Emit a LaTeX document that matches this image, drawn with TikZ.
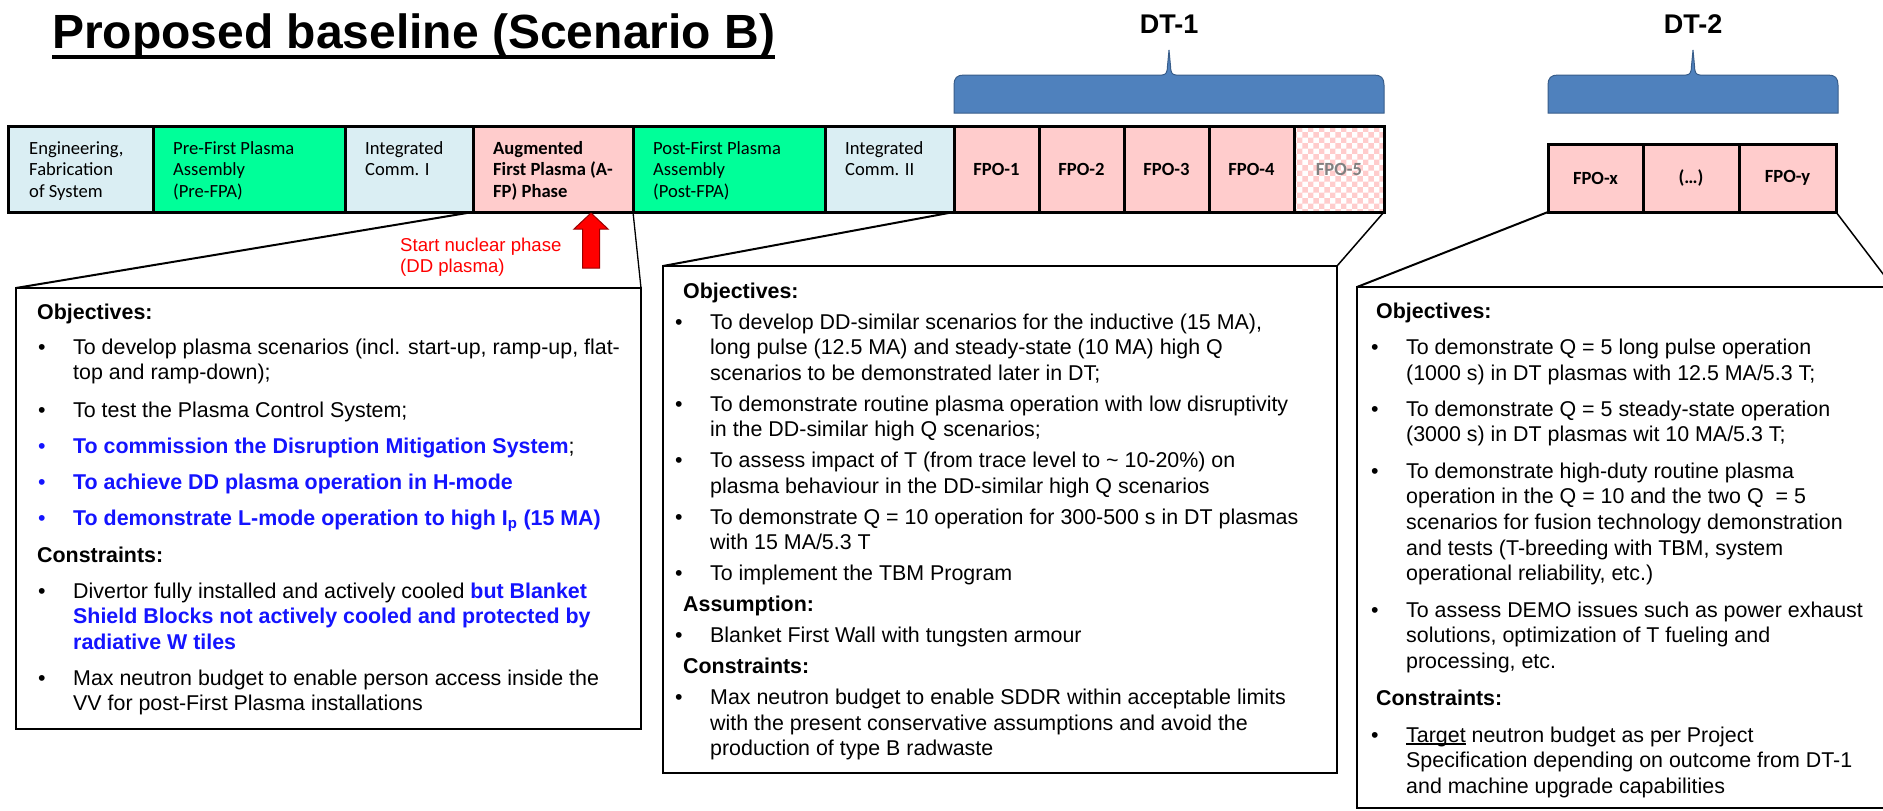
\documentclass[tikz,border=0pt]{standalone}
\usepackage{fontspec}
\setmainfont{Liberation Sans}
\newfontfamily\calib{Carlito}
\usetikzlibrary{patterns}
\definecolor{lblue}{RGB}{218,238,243}
\definecolor{sgreen}{RGB}{0,255,153}
\definecolor{lpink}{RGB}{255,204,204}
\definecolor{bracefill}{RGB}{79,129,189}
\definecolor{bracedark}{RGB}{56,93,138}
\definecolor{tblue}{RGB}{20,20,255}
\definecolor{fpogray}{RGB}{128,128,128}
\newcommand\ml[1]{\begin{tabular}[t]{@{}l@{}}#1\end{tabular}}
\newcommand\ulin[1]{\setbox0\hbox{#1}\rlap{\rule[-2.6pt]{\wd0}{1.3pt}}\box0\relax}
\newcommand\itm[5]{%
  \node[bul, text=#4] (#1b) at (#2-35,#3) {\textbullet};
  \node[body] (#1) at (#2,#3) {\ml{#5}};}
\tikzset{
 cell/.style={draw=black, line width=3pt, anchor=north west, outer sep=0pt, inner sep=0pt, minimum height=86pt},
 cellb/.style={draw=black, line width=3pt, anchor=north west, outer sep=0pt, inner sep=0pt, minimum height=68pt},
 celltxt/.style={anchor=base west, inner sep=0pt, font=\calib\fontsize{18.6}{21.7}\selectfont},
 fpotxt/.style={inner sep=0pt, font=\calib\bfseries\fontsize{18.6}{21.7}\selectfont},
 infobox/.style={draw=black, line width=2.5pt, anchor=north west, outer sep=0pt, inner sep=0pt, fill=white},
 body/.style={anchor=base west, inner sep=0pt, font=\fontsize{21.4}{25.6}\selectfont},
 head/.style={anchor=base west, inner sep=0pt, font=\bfseries\fontsize{21.4}{25.6}\selectfont},
 bul/.style={anchor=base west, inner sep=0pt, font=\fontsize{21.4}{25.6}\selectfont},
 conn/.style={draw=black, line width=2pt},
 dtlabel/.style={anchor=base, inner sep=0pt, font=\bfseries\fontsize{27}{32}\selectfont},
 bracestyle/.style={fill=bracefill, draw=bracedark, line width=1pt},
}
\begin{document}
\begin{tikzpicture}[x=1pt,y=-1pt]
\useasboundingbox[fill=white] (0,0) rectangle (1883,811);

% title
\node[anchor=base west, inner sep=0pt, font=\bfseries\fontsize{48}{56}\selectfont] (title) at (52,48) {Proposed baseline (Scenario B)};
\draw[line width=4pt] ([yshift=-9pt]title.base west) -- ([yshift=-9pt]title.base east);

% DT braces and labels
\fill[bracestyle] (954,113) -- (954,85) .. controls (954,78) and (957,75) .. (964,75) -- (1162,75)
  .. controls (1166,75) and (1167.5,72) .. (1167.5,66) -- (1169,50) -- (1170.5,66)
  .. controls (1170.5,72) and (1172,75) .. (1176,75) -- (1374,75)
  .. controls (1381,75) and (1384,78) .. (1384,85) -- (1384,113) -- cycle;
\fill[bracestyle] (1548,113) -- (1548,85) .. controls (1548,78) and (1551,75) .. (1558,75) -- (1686,75)
  .. controls (1690,75) and (1691.5,72) .. (1691.5,66) -- (1693,50) -- (1694.5,66)
  .. controls (1694.5,72) and (1696,75) .. (1700,75) -- (1828,75)
  .. controls (1835,75) and (1838,78) .. (1838,85) -- (1838,113) -- cycle;
\node[dtlabel] (dt1) at (1169,33) {DT-1};
\node[dtlabel] (dt2) at (1693,33) {DT-2};

% main bar
\node[cell, fill=lblue, minimum width=145pt] (eng) at (8,126) {};
\node[cell, fill=sgreen, minimum width=192pt] (pre) at (153,126) {};
\node[cell, fill=lblue, minimum width=128pt] (int1) at (345,126) {};
\node[cell, fill=lpink, minimum width=160pt] (aug) at (473,126) {};
\node[cell, fill=sgreen, minimum width=192pt] (post) at (633,126) {};
\node[cell, fill=lblue, minimum width=129pt] (int2) at (825,126) {};
\node[cell, fill=lpink, minimum width=85pt] (fpo1) at (954,126) {};
\node[cell, fill=lpink, minimum width=85pt] (fpo2) at (1039,126) {};
\node[cell, fill=lpink, minimum width=85pt] (fpo3) at (1124,126) {};
\node[cell, fill=lpink, minimum width=85pt] (fpo4) at (1209,126) {};
\node[cell, pattern=checkerboard, pattern color=lpink, minimum width=90pt] (fpo5) at (1294,126) {};

\node[celltxt] (engt) at (29,154) {\ml{Engineering,\\Fabrication\\of System}};
\node[celltxt] (pret) at (173,154) {\ml{Pre-First Plasma\\Assembly\\(Pre-FPA)}};
\node[celltxt] (int1t) at (365,154) {\ml{Integrated\\Comm. I}};
\node[celltxt, font=\calib\bfseries\fontsize{18.6}{21.7}\selectfont] (augt) at (493,154) {\ml{Augmented\\First Plasma (A-\\FP) Phase}};
\node[celltxt] (postt) at (653,154) {\ml{Post-First Plasma\\Assembly\\(Post-FPA)}};
\node[celltxt] (int2t) at (845,154) {\ml{Integrated\\Comm. II}};
\node[fpotxt] (fpo1t) at (fpo1) {FPO-1};
\node[fpotxt] (fpo2t) at (fpo2) {FPO-2};
\node[fpotxt] (fpo3t) at (fpo3) {FPO-3};
\node[fpotxt] (fpo4t) at (fpo4) {FPO-4};
\node[fpotxt, text=fpogray] (fpo5t) at (fpo5) {FPO-5};

% DT-2 bar
\node[cellb, fill=lpink, minimum width=95pt] (fpox) at (1548,144) {};
\node[cellb, fill=lpink, minimum width=96pt] (fpod) at (1643,144) {};
\node[cellb, fill=lpink, minimum width=97pt] (fpoy) at (1739,144) {};
\node[fpotxt] (fpoxt) at (fpox) {FPO-x};
\node[fpotxt] (fpodt) at (fpod) {(\dots)};
\node[fpotxt] (fpoyt) at (fpoy) {FPO-y};

% start nuclear phase
\draw[fill=red, draw=red!60!black, line width=1pt] (591,213) -- (608,229) -- (599.5,229) -- (599.5,268) -- (582.5,268) -- (582.5,229) -- (574,229) -- cycle;
\node[anchor=base west, inner sep=0pt, text=red, font=\fontsize{18.6}{21.7}\selectfont] (snp) at (400,251) {\ml{Start nuclear phase\\(DD plasma)}};

% info boxes
\node[infobox, minimum width=625pt, minimum height=441pt] (lbox) at (16,288) {};
\node[infobox, minimum width=674pt, minimum height=507pt] (mbox) at (663,266) {};
\node[infobox, minimum width=536pt, minimum height=521pt] (rbox) at (1357,287) {};

% connectors
\draw[conn] (aug.south west) -- (lbox.north west);
\draw[conn, line width=1.3pt] (aug.south east) -- (lbox.north east);
\draw[conn] (fpo1.south west) -- (mbox.north west);
\draw[conn, line width=1.5pt] (fpo5.south east) -- (mbox.north east);
\draw[conn] (fpox.south west) -- (rbox.north west);
\draw[conn, line width=1.5pt] (fpoy.south east) -- (rbox.north east);

% left box text
\node[head] (lobj) at (37,319) {Objectives:};
\itm{l1}{73}{354}{black}{To develop plasma scenarios (incl. start-up, ramp-up, flat-\\top and ramp-down);}
\itm{l2}{73}{417}{black}{To test the Plasma Control System;}
\itm{l3}{73}{453}{tblue}{{\color{tblue}\bfseries To commission the Disruption Mitigation System};}
\itm{l4}{73}{489}{tblue}{{\color{tblue}\bfseries To achieve DD plasma operation in H-mode}}
\itm{l5}{73}{525}{tblue}{{\color{tblue}\bfseries To demonstrate L-mode operation to high I\textsubscript{p} (15 MA)}}
\node[head] (lcon) at (37,562) {Constraints:};
\itm{l6}{73}{598}{black}{Divertor fully installed and actively cooled {\color{tblue}\bfseries but Blanket}\\{\color{tblue}\bfseries Shield Blocks not actively cooled and protected by}\\{\color{tblue}\bfseries radiative W tiles}}
\itm{l7}{73}{685}{black}{Max neutron budget to enable person access inside the\\VV for post-First Plasma installations}

% middle box text
\node[head] (mobj) at (683,298) {Objectives:};
\itm{m1}{710}{329}{black}{To develop DD-similar scenarios for the inductive (15 MA),\\long pulse (12.5 MA) and steady-state (10 MA) high Q\\scenarios to be demonstrated later in DT;}
\itm{m2}{710}{411}{black}{To demonstrate routine plasma operation with low disruptivity\\in the DD-similar high Q scenarios;}
\itm{m3}{710}{467.5}{black}{To assess impact of T (from trace level to \textasciitilde{} 10-20\%) on\\plasma behaviour in the DD-similar high Q scenarios}
\itm{m4}{710}{524}{black}{To demonstrate Q = 10 operation for 300-500 s in DT plasmas\\with 15 MA/5.3 T}
\itm{m5}{710}{580.5}{black}{To implement the TBM Program}
\node[head] (mass) at (683,611.5) {Assumption:};
\itm{m6}{710}{642.5}{black}{Blanket First Wall with tungsten armour}
\node[head] (mcon) at (683,673.5) {Constraints:};
\itm{m7}{710}{704.5}{black}{Max neutron budget to enable SDDR within acceptable limits\\with the present conservative assumptions and avoid the\\production of type B radwaste}

% right box text
\node[head] (robj) at (1376,318) {Objectives:};
\itm{r1}{1406}{354.4}{black}{To demonstrate Q = 5 long pulse operation\\(1000 s) in DT plasmas with 12.5 MA/5.3 T;}
\itm{r2}{1406}{416.3}{black}{To demonstrate Q = 5 steady-state operation\\(3000 s) in DT plasmas wit 10 MA/5.3 T;}
\itm{r3}{1406}{478.2}{black}{To demonstrate high-duty routine plasma\\operation in the Q = 10 and the two Q \ = 5\\scenarios for fusion technology demonstration\\and tests (T-breeding with TBM, system\\operational reliability, etc.)}
\itm{r4}{1406}{617}{black}{To assess DEMO issues such as power exhaust\\solutions, optimization of T fueling and\\processing, etc.}
\node[head] (rcon) at (1376,705) {Constraints:};
\itm{r5}{1406}{742}{black}{\ulin{Target} neutron budget as per Project\\Specification depending on outcome from DT-1\\and machine upgrade capabilities}
\end{tikzpicture}
\end{document}
